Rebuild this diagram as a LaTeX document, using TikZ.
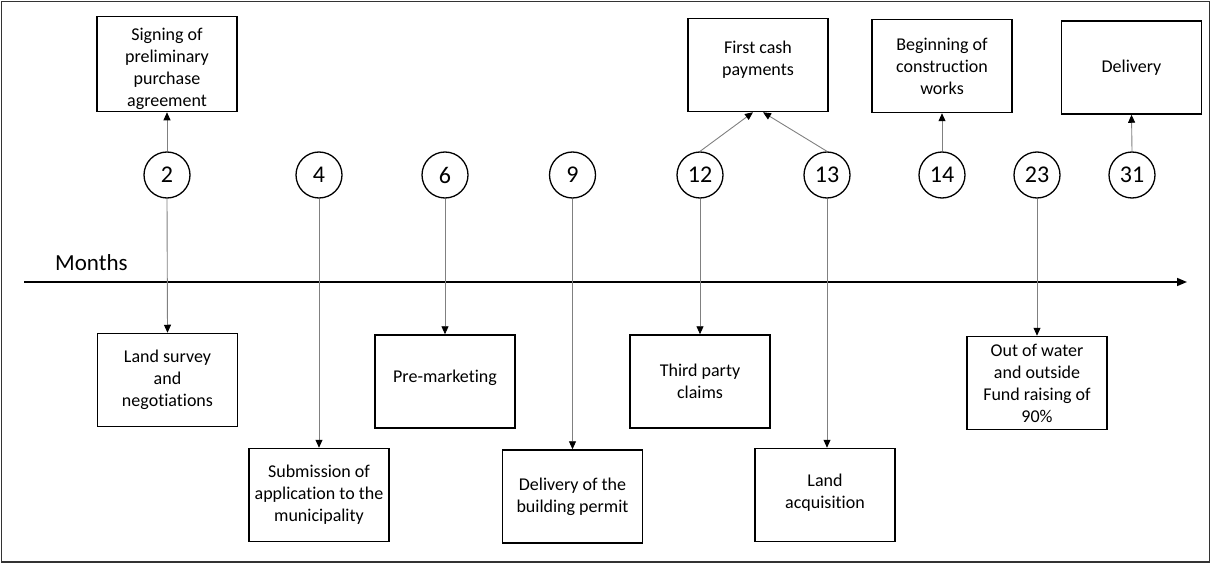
\documentclass[tikz,border=0pt]{standalone}
\usepackage{fontspec}
\setmainfont{Carlito}[Ligatures=NoCommon]
\usetikzlibrary{arrows.meta}
\begin{document}
\begin{tikzpicture}[x=1pt,y=-1pt,
  evbox/.style={draw=black,line width=1.5pt,minimum width=140pt,minimum height=93pt,
    inner sep=2pt,align=center,font=\fontsize{18}{22}\selectfont},
  mcirc/.style={draw=black,circle,line width=1.3pt,minimum size=46pt,inner sep=0pt,
    font=\fontsize{24}{28}\selectfont},
  conn/.style={draw=black!50,line width=0.9pt,-{Triangle[length=8pt,width=7pt,color=black]}}]
\useasboundingbox (0,0) rectangle (1212,564);
\draw[black!80,line width=1.5pt] (1.5,1.5) rectangle (1209.5,562);

% timeline
\coordinate (tl0) at (24,282);
\coordinate (tl1) at (1187,282);
\draw[line width=1.5pt,-{Triangle[length=10pt,width=8pt]}] (tl0) -- (tl1);
\node[anchor=base west,inner sep=0pt,font=\fontsize{23}{27}\selectfont] (months) at (55,270) {Months};

% circles
\node[mcirc] (c2)  at (167,175) {2};
\node[mcirc] (c4)  at (319,175) {4};
\node[mcirc] (c6)  at (445,175) {6};
\node[mcirc] (c9)  at (572.5,175) {9};
\node[mcirc] (c12) at (700,175) {12};
\node[mcirc] (c13) at (827,175) {13};
\node[mcirc] (c14) at (942,175) {14};
\node[mcirc] (c23) at (1037,175) {23};
\node[mcirc] (c31) at (1132,175) {31};

% top boxes
\node[evbox] (sign)  at (167,64) {\rule{0pt}{22pt}Signing of\\preliminary\\purchase\\agreement};
\node[evbox] (cash)  at (758,65) {First cash\\payments\\[-8pt]};
\node[evbox] (begin) at (942,66) {Beginning of\\construction\\works};
\node[evbox] (deliv) at (1131.5,67.5) {Delivery};

% bottom boxes
\node[evbox] (land)  at (167.5,380) {Land survey\\and\\negotiations};
\node[evbox] (subm)  at (319,495) {Submission of\\application to the\\municipality};
\node[evbox] (prem)  at (445,381.5) {Pre-marketing\\[-11pt]};
\node[evbox] (perm)  at (572.5,496.5) {Delivery of the\\building permit};
\node[evbox] (third) at (700,381.5) {Third party\\claims};
\node[evbox] (acq)   at (825,495) {Land\\acquisition\\[-14pt]};
\node[evbox] (water) at (1037,383) {Out of water\\and outside\\Fund raising of\\90\%};

% connectors up
\draw[conn] (c2.north) -- (sign.south);
\draw[conn] (c12.north) -- ([xshift=-5pt]cash.south);
\draw[conn] (c13.north) -- ([xshift=5pt]cash.south);
\draw[conn] (c14.north) -- (begin.south);
\draw[conn] (c31.north) -- (deliv.south);

% connectors down
\draw[conn] (c2.south) -- (land.north);
\draw[conn] (c4.south) -- (subm.north);
\draw[conn] (c6.south) -- (prem.north);
\draw[conn] (c9.south) -- (perm.north);
\draw[conn] (c12.south) -- (third.north);
\draw[conn] (c13.south) -- (c13.south |- acq.north);
\draw[conn] (c23.south) -- (water.north);
\end{tikzpicture}
\end{document}
